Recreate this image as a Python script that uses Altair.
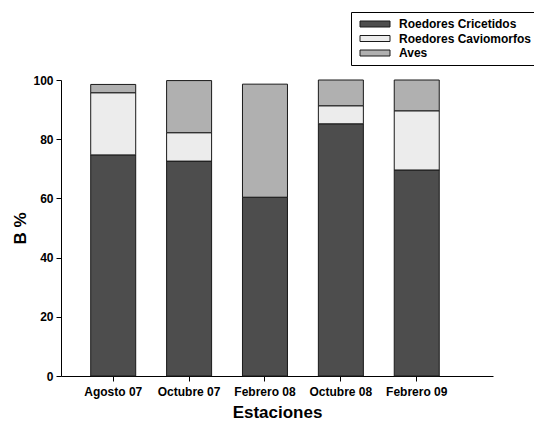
import altair as alt
import pandas as pd

estaciones = ["Agosto 07", "Octubre 07", "Febrero 08", "Octubre 08", "Febrero 09"]
grupos = ["Roedores Cricetidos", "Roedores Caviomorfos", "Aves"]
cricetidos = [74.7, 72.6, 60.4, 85.2, 69.6]
caviomorfos = [21.0, 9.6, 0.0, 6.1, 20.0]
aves = [2.8, 17.6, 38.2, 8.7, 10.4]
colores = ["#4d4d4d", "#ececec", "#b0b0b0"]

rows = []
for i, e in enumerate(estaciones):
    for k, (g, serie) in enumerate(zip(grupos, [cricetidos, caviomorfos, aves])):
        rows.append({"Estacion": e, "Grupo": g, "Valor": serie[i], "orden": k})
df = pd.DataFrame(rows)

font = "Liberation Sans"

chart = alt.Chart(df).mark_bar(stroke="#1a1a1a", strokeWidth=1).encode(
    x=alt.X("Estacion:N", sort=estaciones, title="Estaciones",
            scale=alt.Scale(paddingInner=0.407, paddingOuter=0.55, align=0.356),
            axis=alt.Axis(labelAngle=0, labelFontSize=12, labelFontWeight="bold",
                          labelFont=font, titleFont=font, titleFontSize=17,
                          titleFontWeight="bold", tickSize=5, labelPadding=5,
                          titlePadding=7, domainColor="black", tickColor="black",
                          labelColor="black", titleColor="black")),
    y=alt.Y("Valor:Q", stack="zero", title="B %",
            scale=alt.Scale(domain=[0, 100], nice=False),
            axis=alt.Axis(values=[0, 20, 40, 60, 80, 100], grid=False, labelFontSize=12,
                          labelFontWeight="bold", labelFont=font, titleFont=font,
                          titleFontSize=17, titleFontWeight="bold", tickSize=5,
                          labelPadding=3, titlePadding=3, domainColor="black",
                          tickColor="black", labelColor="black", titleColor="black")),
    color=alt.Color("Grupo:N", sort=grupos,
                    scale=alt.Scale(domain=grupos, range=colores),
                    legend=alt.Legend(title=None, orient="none", legendX=290, legendY=-68,
                                      symbolType="M-1,-1H9V1H-1Z", symbolSize=36,
                                      symbolStrokeColor="#1a1a1a", symbolStrokeWidth=1,
                                      labelFont=font, labelFontSize=12,
                                      labelFontWeight="bold", labelColor="black",
                                      labelOffset=30, strokeColor="black", padding=6,
                                      rowPadding=2.5, fillColor="white")),
    order=alt.Order("orden:Q"),
).properties(
    width=432, height=296,
    autosize=alt.AutoSizeParams(type="none"),
    padding={"left": 53, "top": 72, "right": 41, "bottom": 45},
).configure_view(stroke=None)

chart.save("out.html", embed_options={"renderer": "svg", "actions": False})
